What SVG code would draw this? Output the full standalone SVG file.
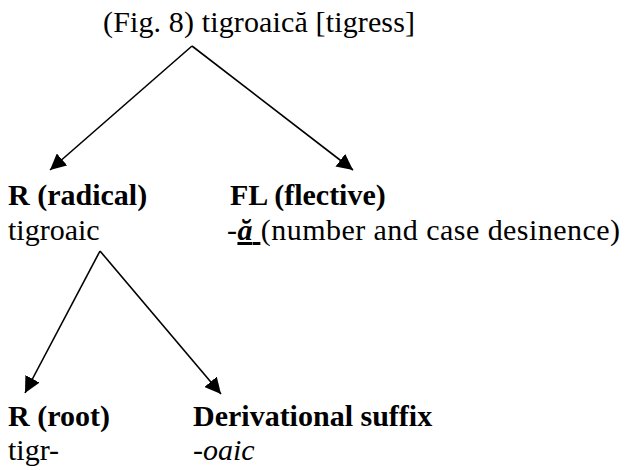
<svg xmlns="http://www.w3.org/2000/svg" width="627" height="470" viewBox="0 0 627 470">
<style>
text{font-family:"Liberation Serif","Times New Roman",serif;font-size:30px;fill:#000}
.b{font-weight:bold}
.i{font-style:italic}
.c{stroke:#000;stroke-width:1.6;fill:none;marker-end:url(#ah)}
</style>
<defs>
<marker id="ah" markerUnits="userSpaceOnUse" markerWidth="17" markerHeight="16" refX="16" refY="8" orient="auto">
<path d="M0,0 L16,8 L0,16 z" fill="#000"/>
</marker>
</defs>
<rect width="627" height="470" fill="#fff"/>
<g id="connectors">
<line class="c" x1="192" y1="46" x2="50" y2="170"/>
<line class="c" x1="192" y1="46" x2="353" y2="170"/>
<line class="c" x1="100" y1="251" x2="25" y2="393"/>
<line class="c" x1="100" y1="251" x2="221" y2="394"/>
</g>
<g id="word">
<text x="103" y="32" textLength="312" lengthAdjust="spacing">(Fig. 8) tigroaică [tigress]</text>
</g>
<g id="radical">
<text class="b" x="8" y="205">R (radical)</text>
<text x="8" y="240">tigroaic</text>
</g>
<g id="flective">
<text class="b" x="230" y="205">FL (flective)</text>
<text x="227" y="240" textLength="393" lengthAdjust="spacing">-<tspan class="b i" text-decoration="underline">ă </tspan>(number and case desinence)</text>
</g>
<g id="root">
<text class="b" x="8" y="426">R (root)</text>
<text x="8" y="460">tigr-</text>
</g>
<g id="suffix">
<text class="b" x="193" y="426">Derivational suffix</text>
<text x="193" y="460">-<tspan class="i">oaic</tspan></text>
</g>
</svg>
